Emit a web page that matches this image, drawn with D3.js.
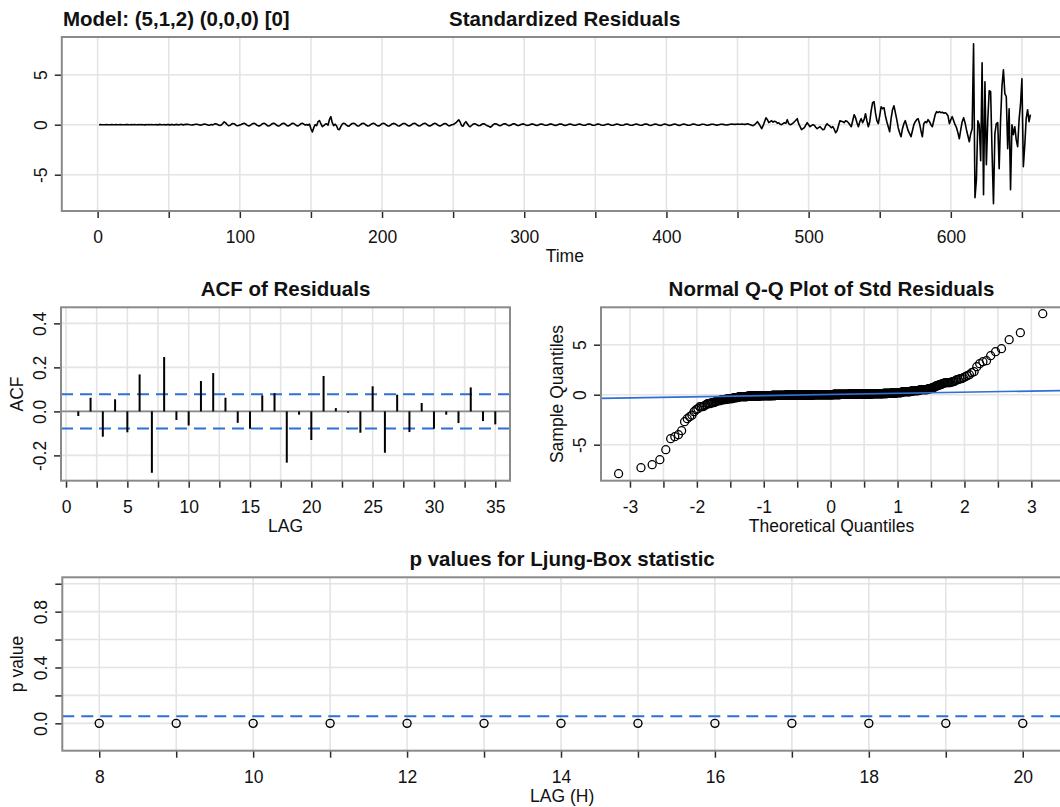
<!DOCTYPE html>
<html>
<head>
<meta charset="utf-8">
<script src="https://cdn.jsdelivr.net/npm/d3@7"></script>
<style>
body { margin: 0; background: #fff; }
svg { display: block; }
</style>
</head>
<body>
<svg width="1060" height="807"></svg>
<script>
// standardized residuals, t = 1..656
const resid = [
0,0.01,0,-0.01,0,0.01,0,0,-0.01,0.01,0,0,0.01,-0.01,0,0.01,0,-0.01,0,0.01,
0.01,0,-0.01,0.01,0,0.02,-0.01,0,0.01,-0.01,0.02,0,-0.02,0.01,0,0.02,-0.01,0.01,0,-0.01,
0.02,-0.02,0.01,0.03,-0.01,0,0.02,-0.03,0.02,0.01,-0.02,0.03,0,-0.02,0.03,0.01,-0.03,0.02,0.04,-0.02,
0.01,0.03,0.04,0.02,-0.01,-0.03,-0.02,0.02,0.05,0.04,0,-0.04,-0.03,0.02,0.06,0.05,0,-0.05,-0.04,0.01,
-0.02,0.06,0.1,0.05,-0.04,-0.08,-0.02,0.12,0.28,0.18,0.02,-0.1,-0.08,0.04,0.12,0.1,-0.02,-0.1,-0.08,-0.02,
0.02,0.1,0.14,0.08,-0.04,-0.12,-0.1,0,0.1,0.14,0.08,-0.04,-0.12,-0.12,-0.02,0.1,0.15,0.08,-0.05,-0.13,
-0.1,0.02,0.12,0.15,0.06,-0.06,-0.14,-0.1,0.02,0.12,0.14,0.05,-0.08,-0.13,-0.06,0.06,0.15,0.12,0,-0.1,
-0.12,-0.02,0.1,0.14,0.06,-0.04,0.02,-0.05,0.05,-0.4,-0.72,-0.3,0,-0.1,0.3,0.42,0.1,-0.2,-0.1,0.05,
0.1,-0.05,0.5,0.8,0.2,-0.1,0.05,-0.1,-0.45,-0.5,-0.2,0.05,0.15,0.1,-0.05,-0.15,-0.12,0.02,0.12,0.15,
0.08,-0.05,-0.14,-0.1,0.02,0.12,0.14,0.06,-0.06,-0.13,-0.1,0,0.1,0.15,0.08,-0.04,-0.12,-0.12,-0.02,0.1,
0.14,0.09,-0.03,-0.12,-0.13,-0.04,0.07,0.13,0.1,0,-0.1,-0.14,-0.06,0.05,0.12,0.12,0.03,-0.08,-0.13,-0.08,
0.03,0.12,0.14,0.06,-0.06,-0.13,-0.1,0,0.1,0.15,0.09,-0.03,-0.12,-0.12,-0.03,0.08,0.14,0.1,-0.02,-0.1,
-0.12,-0.05,0.05,0.12,0.1,-0.02,-0.12,-0.08,0,0.02,0.1,0.2,0.35,0.48,0.25,-0.1,-0.15,0.15,0.3,0.1,
-0.12,-0.2,-0.08,0.05,0.1,0.06,-0.04,-0.1,-0.08,0.02,0.1,0.08,-0.02,-0.1,-0.15,-0.25,-0.18,-0.02,0.08,0.1,
0.04,-0.06,-0.1,-0.05,0.05,0.1,0.08,-0.02,-0.09,-0.08,0,0.08,0.09,0.02,-0.06,-0.09,-0.04,0.04,0.08,0.05,
-0.02,-0.07,-0.06,0,0.06,0.07,0.02,-0.05,-0.07,-0.03,0.04,0.07,0.05,-0.02,-0.06,-0.06,0,0.06,0.07,0.02,
-0.04,-0.07,-0.04,0.02,0.06,0.06,0.01,-0.05,-0.07,-0.03,0.03,0.07,0.05,-0.01,-0.06,-0.06,-0.01,0.05,0.07,0.03,
-0.03,-0.06,-0.05,0.01,0.06,0.06,0.01,-0.05,-0.06,-0.02,0.04,0.07,0.04,-0.02,-0.06,-0.05,0,0.05,0.06,0.02,
-0.04,-0.06,-0.04,0.02,0.06,0.05,0,-0.05,-0.06,-0.02,0.04,0.06,0.04,-0.02,-0.06,-0.05,0,0.05,0.07,0.03,
-0.03,-0.06,-0.05,0.01,0.06,0.06,0.01,-0.05,-0.08,-0.04,0.03,0.07,0.05,-0.01,-0.06,-0.07,-0.02,0.05,0.07,0.03,
-0.03,-0.07,-0.06,0,0.05,0.06,0.02,-0.04,-0.07,-0.04,0.02,0.06,0.05,0,-0.05,-0.06,-0.02,0.04,0.06,0.04,
-0.01,-0.05,-0.05,0,0.05,0.05,0.01,-0.04,-0.05,-0.02,0.03,0.05,0.04,0,-0.04,-0.04,0,0.04,0.05,0.03,
0,-0.03,-0.02,0.02,0.05,0.06,0.04,0.03,0.05,0.06,0.05,0.04,0.06,0.05,0.03,0.05,0.1,0.05,0,-0.05,
-0.1,0,0.15,0.3,0.1,-0.15,-0.4,-0.1,0.3,0.7,0.5,0.2,0.3,0.4,0.25,0.35,0.3,0.15,0.2,0.05,
0,0.1,0.2,0.15,0.5,0.1,0,0.05,0.15,0.3,0.45,0.6,0.1,-0.2,-0.5,-0.4,-0.3,-0.05,0.2,0,
-0.2,-0.1,0,-0.05,-0.25,-0.4,-0.3,-0.2,-0.35,-0.5,-0.45,-0.1,0.1,-0.05,-0.15,-0.3,-0.2,-0.45,-0.8,-0.6,
-0.1,0.4,0.35,0.3,0.2,0.4,0.35,0.2,0,-0.2,0.4,1.0,0.7,0.2,-0.2,0.3,0.6,0.2,0.5,1.1,
0.4,-0.2,0.3,1.4,2.2,2.3,1.2,0.4,0.1,0.9,1.8,1.6,1.7,0.9,0.3,-0.2,-0.7,0.6,1.5,1.9,
1.2,0.5,-0.3,-0.8,-1.2,-0.4,0.1,0.4,-0.1,-0.6,-0.9,-1.2,-0.6,0,0.3,0.5,0.6,0.1,-0.6,-1.2,
0.1,0.3,0.2,0.5,0.3,0,-0.2,0.4,1.0,1.3,1.2,1.3,1.2,1.25,1.15,1.2,1.1,0.9,0.1,0.5,
0.8,0.4,0,-0.3,-0.8,-1.4,-0.5,0.3,0.7,0.2,-0.5,-1.1,-1.7,-0.9,-0.4,8.1,-7.3,-5.5,0.4,0,
-3.6,6.2,-7.0,4.3,-4.0,0.5,3.4,3.3,-2.7,-7.9,-0.9,0.1,0.2,-4.4,0.5,3.9,5.5,3.1,2.8,-2.4,
1.6,-6.5,0,-1.0,-0.2,-1.5,-2.2,0.5,2.0,4.6,-4.2,-2.05,0.6,1.5,0.3,1.0
];

// ACF of residuals, lags 1..35
const acfVals = [-0.021,0.062,-0.115,0.055,-0.095,0.168,-0.279,0.247,-0.039,-0.064,
  0.138,0.174,0.062,-0.052,-0.079,0.073,0.083,-0.233,-0.015,-0.13,
  0.161,0.015,-0.006,-0.097,0.114,-0.188,0.076,-0.094,0.038,-0.079,
  -0.015,-0.053,0.109,-0.044,-0.059];
const acfBound = 0.078;

// Ljung-Box p values
const lbLags = [8,9,10,11,12,13,14,15,16,17,18,19,20];
const lbPvals = [0,0,0,0,0,0,0,0,0,0,0,0,0];
const lbAlpha = 0.05;

const modelTitle = "Model: (5,1,2) (0,0,0) [0]";

const svg = d3.select("svg");
const font = '"Liberation Sans", Arial, Helvetica, sans-serif';
const gridCol = "#e4e4e4", boxCol = "#8a8a8a", tickCol = "#2a2a2a", blue = "#2f6fd6";
const fs = 17.5, fsMain = 20.5;

function qnorm(p){
  const a=[-39.69683028665376,220.9460984245205,-275.9285104469687,138.3577518672690,-30.66479806614716,2.506628277459239];
  const b=[-54.47609879822406,161.5858368580409,-155.6989798598866,66.80131188771972,-13.28068155288572];
  const c=[-0.007784894002430293,-0.3223964580411365,-2.400758277161838,-2.549671600000000,4.374664141464968,2.938163982698783];
  const d=[0.007784695709041462,0.3224671290700398,2.445134137142996,3.754408661907416];
  const pl=0.02425;
  let q, r;
  if(p<pl){
    q=Math.sqrt(-2*Math.log(p));
    return (((((c[0]*q+c[1])*q+c[2])*q+c[3])*q+c[4])*q+c[5])/((((d[0]*q+d[1])*q+d[2])*q+d[3])*q+1);
  }
  if(p>1-pl){
    q=Math.sqrt(-2*Math.log(1-p));
    return -(((((c[0]*q+c[1])*q+c[2])*q+c[3])*q+c[4])*q+c[5])/((((d[0]*q+d[1])*q+d[2])*q+d[3])*q+1);
  }
  q=p-0.5; r=q*q;
  return (((((a[0]*r+a[1])*r+a[2])*r+a[3])*r+a[4])*r+a[5])*q/(((((b[0]*r+b[1])*r+b[2])*r+b[3])*r+b[4])*r+1);
}

function makePanel(box, xdom, ydom, id){
  const x = d3.scaleLinear().domain(xdom).range([box.x0, box.x1]);
  const y = d3.scaleLinear().domain(ydom).range([box.y1, box.y0]);
  svg.append("clipPath").attr("id", id).append("rect")
    .attr("x", box.x0).attr("y", box.y0)
    .attr("width", box.x1-box.x0).attr("height", box.y1-box.y0);
  const g = svg.append("g");
  return {x: x, y: y, g: g, box: box, clip: "url(#"+id+")"};
}

function drawGrid(p, xs, ys){
  p.g.append("g").selectAll("line").data(xs).enter().append("line")
    .attr("x1", d => p.x(d)).attr("x2", d => p.x(d))
    .attr("y1", p.box.y0).attr("y2", p.box.y1)
    .attr("stroke", gridCol).attr("stroke-width", 1.6);
  p.g.append("g").selectAll("line").data(ys).enter().append("line")
    .attr("x1", p.box.x0).attr("x2", p.box.x1)
    .attr("y1", d => p.y(d)).attr("y2", d => p.y(d))
    .attr("stroke", gridCol).attr("stroke-width", 1.6);
}

function xAxis(p, ticks, labelled, fmt){
  const ax = d3.axisBottom(p.x).tickValues(ticks).tickSize(7)
    .tickFormat(d => labelled.indexOf(d) >= 0 ? fmt(d) : "");
  p.g.append("g").attr("transform", "translate(0,"+p.box.y1+")")
    .call(ax)
    .attr("font-size", fs).attr("font-family", font).attr("color", tickCol)
    .call(a => a.select(".domain").remove())
    .call(a => a.selectAll("line").attr("stroke-width", 1.5))
    .call(a => a.selectAll("text").attr("y", 32).attr("dy", null).attr("fill", "#111"));
}

function yAxis(p, ticks, labelled, fmt){
  const ax = d3.axisLeft(p.y).tickValues(ticks).tickSize(7)
    .tickFormat(d => labelled.indexOf(d) >= 0 ? fmt(d) : "");
  p.g.append("g").attr("transform", "translate("+p.box.x0+",0)")
    .call(ax)
    .attr("font-size", fs).attr("font-family", font).attr("color", tickCol)
    .call(a => a.select(".domain").remove())
    .call(a => a.selectAll("line").attr("stroke-width", 1.5))
    .call(a => a.selectAll("text").attr("x", null).attr("dy", null)
      .attr("text-anchor", "middle").attr("fill", "#111")
      .attr("transform", "translate(-15,0) rotate(-90)"));
}

function titles(p, main, xlab, ylab){
  const cx = (p.box.x0 + p.box.x1)/2, cy = (p.box.y0 + p.box.y1)/2;
  if(main) svg.append("text").attr("x", cx).attr("y", p.box.y0-11)
    .attr("text-anchor", "middle").attr("font-family", font)
    .attr("font-size", fsMain).attr("font-weight", "bold").attr("fill", "#111").text(main);
  if(xlab) svg.append("text").attr("x", cx).attr("y", p.box.y1+51)
    .attr("text-anchor", "middle").attr("font-family", font)
    .attr("font-size", fs).attr("fill", "#111").text(xlab);
  if(ylab) svg.append("text")
    .attr("transform", "translate("+(p.box.x0-38)+","+cy+") rotate(-90)")
    .attr("text-anchor", "middle").attr("font-family", font)
    .attr("font-size", fs).attr("fill", "#111").text(ylab);
}

function border(p){
  svg.append("rect").attr("x", p.box.x0).attr("y", p.box.y0)
    .attr("width", p.box.x1-p.box.x0).attr("height", p.box.y1-p.box.y0)
    .attr("fill", "none").attr("stroke", boxCol).attr("stroke-width", 2);
}

// ---------- standardized residuals ----------
const n = resid.length;
const tsP = makePanel({x0: 61.8, x1: 1067.7, y0: 37, y1: 211}, [1-0.04*(n-1), n+0.04*(n-1)], [-8.63, 8.77], "c1");
drawGrid(tsP, d3.range(0, 651, 50), [-5, 0, 5]);
tsP.g.append("path").datum(resid)
  .attr("d", d3.line().x((d,i) => tsP.x(i+1)).y(d => tsP.y(d)))
  .attr("fill", "none").attr("stroke", "#000").attr("stroke-width", 1.6)
  .attr("stroke-linejoin", "round");
xAxis(tsP, d3.range(0, 651, 50), [0,100,200,300,400,500,600], d => String(d));
yAxis(tsP, [-5, 0, 5], [-5, 0, 5], d => String(d));
border(tsP);
titles(tsP, "Standardized Residuals", "Time", null);
svg.append("text").attr("x", 63).attr("y", 26).attr("font-family", font)
  .attr("font-size", fsMain).attr("font-weight", "bold").attr("fill", "#111").text(modelTitle);

// ---------- ACF ----------
const acfP = makePanel({x0: 61, x1: 510, y0: 307.3, y1: 480.7}, [-0.41, 36.2], [-0.315, 0.473], "c2");
const acfX = d3.range(0, 36, 2.5);
drawGrid(acfP, acfX, [-0.2, 0, 0.2, 0.4]);
acfP.g.append("line").attr("x1", acfP.box.x0).attr("x2", acfP.box.x1)
  .attr("y1", acfP.y(0)).attr("y2", acfP.y(0)).attr("stroke", "#8a8a8a").attr("stroke-width", 1.6);
acfP.g.selectAll(".bnd").data([acfBound, -acfBound]).enter().append("line")
  .attr("x1", acfP.box.x0).attr("x2", acfP.box.x1)
  .attr("y1", d => acfP.y(d)).attr("y2", d => acfP.y(d))
  .attr("stroke", blue).attr("stroke-width", 2).attr("stroke-dasharray", "12,7");
acfP.g.selectAll(".bar").data(acfVals).enter().append("line")
  .attr("x1", (d,i) => acfP.x(i+1)).attr("x2", (d,i) => acfP.x(i+1))
  .attr("y1", acfP.y(0)).attr("y2", d => acfP.y(d))
  .attr("stroke", "#000").attr("stroke-width", 2);
xAxis(acfP, acfX, [0,5,10,15,20,25,30,35], d => String(d));
yAxis(acfP, [-0.2, 0, 0.2, 0.4], [-0.2, 0, 0.2, 0.4], d => d.toFixed(1));
border(acfP);
titles(acfP, "ACF of Residuals", "LAG", "ACF");

// ---------- Normal Q-Q ----------
const sorted = resid.slice().sort(d3.ascending);
const qq = sorted.map((v,i) => ({t: qnorm((i+0.5)/n), s: v}));
const qqP = makePanel({x0: 601, x1: 1062, y0: 307.3, y1: 480.7}, [-3.433, 3.458], [-8.6, 8.74], "c3");
const qqX = d3.range(-3, 3.01, 0.5);
drawGrid(qqP, qqX, [-5, 0, 5]);
qqP.g.append("g").attr("clip-path", qqP.clip)
  .selectAll("circle").data(qq).enter().append("circle")
  .attr("cx", d => qqP.x(d.t)).attr("cy", d => qqP.y(d.s)).attr("r", 4)
  .attr("fill", "none").attr("stroke", "#000").attr("stroke-width", 1.3);
const q1 = d3.quantile(sorted, 0.25), q3 = d3.quantile(sorted, 0.75);
const slope = (q3-q1)/(qnorm(0.75)-qnorm(0.25));
const icpt = q1 - slope*qnorm(0.25);
const xd = qqP.x.domain();
qqP.g.append("line").attr("clip-path", qqP.clip)
  .attr("x1", qqP.x(xd[0])).attr("x2", qqP.x(xd[1]))
  .attr("y1", qqP.y(icpt+slope*xd[0])).attr("y2", qqP.y(icpt+slope*xd[1]))
  .attr("stroke", blue).attr("stroke-width", 1.6);
xAxis(qqP, qqX, [-3,-2,-1,0,1,2,3], d => String(d));
yAxis(qqP, [-5, 0, 5], [-5, 0, 5], d => String(d));
border(qqP);
titles(qqP, "Normal Q-Q Plot of Std Residuals", "Theoretical Quantiles", "Sample Quantiles");

// ---------- Ljung-Box ----------
const lbP = makePanel({x0: 62.3, x1: 1062, y0: 577.3, y1: 750.7}, [7.52, 20.51], [-0.196, 1.046], "c4");
const lbY = [0, 0.2, 0.4, 0.6, 0.8, 1.0];
drawGrid(lbP, lbLags, lbY);
lbP.g.append("line").attr("x1", lbP.box.x0).attr("x2", lbP.box.x1)
  .attr("y1", lbP.y(lbAlpha)).attr("y2", lbP.y(lbAlpha))
  .attr("stroke", blue).attr("stroke-width", 2).attr("stroke-dasharray", "12,7");
lbP.g.selectAll("circle").data(lbPvals).enter().append("circle")
  .attr("cx", (d,i) => lbP.x(lbLags[i])).attr("cy", d => lbP.y(d)).attr("r", 4)
  .attr("fill", "none").attr("stroke", "#000").attr("stroke-width", 1.4);
xAxis(lbP, lbLags, [8,10,12,14,16,18,20], d => String(d));
yAxis(lbP, lbY, [0, 0.4, 0.8], d => d.toFixed(1));
border(lbP);
titles(lbP, "p values for Ljung-Box statistic", "LAG (H)", null);
svg.append("text")
  .attr("transform", "translate(23,"+((lbP.box.y0+lbP.box.y1)/2)+") rotate(-90)")
  .attr("text-anchor", "middle").attr("font-family", font)
  .attr("font-size", fs).attr("fill", "#111").text("p value");
</script>
</body>
</html>
